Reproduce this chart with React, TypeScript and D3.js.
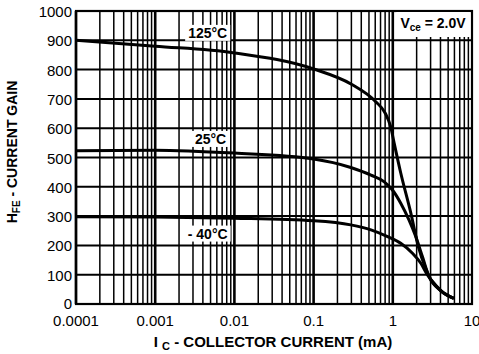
import * as React from 'react'
import { useEffect, useRef } from 'react'
import * as d3 from 'd3'

// Ic (mA) vs HFE
const curve125: [number, number][] = [
  [0.0001, 900], [0.001, 880], [0.01, 857], [0.1, 802], [0.3, 750], [0.6, 692],
  [0.8, 652], [0.94, 605], [1.04, 549], [1.26, 447], [1.69, 310], [2.1, 196],
  [2.6, 122], [3.0, 85], [4, 46], [5.9, 19],
]
const curve25: [number, number][] = [
  [0.0001, 523], [0.001, 525], [0.01, 515], [0.1, 495], [0.295, 466], [0.53, 440],
  [0.78, 417], [0.99, 389], [1.26, 344], [1.6, 287], [1.95, 230], [2.37, 161],
  [2.87, 93], [4.04, 46], [5.9, 19],
]
const curveM40: [number, number][] = [
  [0.0001, 298], [0.001, 297], [0.01, 293], [0.1, 284], [0.295, 270], [0.53, 253],
  [0.86, 230], [1.26, 207], [1.77, 173], [2.26, 139], [2.74, 99], [3.1, 80],
  [4.04, 46], [5.9, 19],
]
const xTicks = [0.0001, 0.001, 0.01, 0.1, 1, 10]
const xTickLabels = ['0.0001', '0.001', '0.01', '0.1', '1', '10']
const yTicks = [0, 100, 200, 300, 400, 500, 600, 700, 800, 900, 1000]
const curveLabels = [
  { text: '125°C', x: 0.0046, y: 925 },
  { text: '25°C', x: 0.005, y: 563 },
  { text: '- 40°C', x: 0.0046, y: 240 },
]

const W = 479
const H = 354
const M = { top: 11, right: 7, bottom: 50, left: 76 }

export default function App() {
  const svgRef = useRef<SVGSVGElement>(null)

  useEffect(() => {
    if (!svgRef.current) return
    const svg = d3.select(svgRef.current)
    svg.selectAll('*').remove()

    const x = d3.scaleLog().domain([0.0001, 10]).range([M.left, W - M.right])
    const y = d3.scaleLinear().domain([0, 1000]).range([H - M.bottom, M.top])
    const font = 'Liberation Sans, Arial, sans-serif'

    const grid = svg.append('g')
    // vertical minor / major lines
    for (let e = -4; e < 1; e++) {
      for (let k = 1; k < 10; k++) {
        const v = k * Math.pow(10, e)
        grid.append('line')
          .attr('x1', x(v)).attr('x2', x(v))
          .attr('y1', y(0)).attr('y2', y(1000))
          .attr('stroke', '#000')
          .attr('stroke-width', k === 1 ? 2.6 : 1.5)
      }
    }
    yTicks.forEach(t => {
      grid.append('line')
        .attr('x1', x(0.0001)).attr('x2', x(10))
        .attr('y1', y(t)).attr('y2', y(t))
        .attr('stroke', '#000')
        .attr('stroke-width', 2)
    })
    svg.append('rect')
      .attr('x', x(0.0001)).attr('y', y(1000))
      .attr('width', x(10) - x(0.0001)).attr('height', y(0) - y(1000))
      .attr('fill', 'none').attr('stroke', '#000').attr('stroke-width', 2.2)

    // curves
    const line = d3.line<[number, number]>()
      .x(d => x(d[0]))
      .y(d => y(d[1]))
      .curve(d3.curveMonotoneX)
    ;[curve125, curve25, curveM40].forEach(c => {
      svg.append('path')
        .attr('d', line(c))
        .attr('fill', 'none')
        .attr('stroke', '#000')
        .attr('stroke-width', 3)
    })

    // curve labels with white boxes
    curveLabels.forEach(l => {
      const g = svg.append('g')
      const t = g.append('text')
        .attr('x', x(l.x)).attr('y', y(l.y))
        .attr('text-anchor', 'middle')
        .attr('dy', '0.35em')
        .attr('font-family', font)
        .attr('font-weight', 'bold')
        .attr('font-size', 14)
        .text(l.text)
      const bb = (t.node() as SVGTextElement).getBBox()
      g.insert('rect', 'text')
        .attr('x', bb.x - 3).attr('y', bb.y)
        .attr('width', bb.width + 6).attr('height', bb.height)
        .attr('fill', '#fff')
    })

    // Vce label
    const vg = svg.append('g')
    const vt = vg.append('text')
      .attr('x', 433).attr('y', 28)
      .attr('text-anchor', 'middle')
      .attr('font-family', font)
      .attr('font-weight', 'bold')
      .attr('font-size', 14)
    vt.append('tspan').text('V')
    vt.append('tspan').attr('font-size', 10).attr('dy', 3).text('ce')
    vt.append('tspan').attr('dy', -3).text(' = 2.0V')
    const vb = (vt.node() as SVGTextElement).getBBox()
    vg.insert('rect', 'text')
      .attr('x', vb.x - 4).attr('y', y(1000) + 1)
      .attr('width', vb.width + 8).attr('height', 25)
      .attr('fill', '#fff')

    // y tick labels
    yTicks.forEach(t => {
      svg.append('text')
        .attr('x', 72).attr('y', y(t))
        .attr('dy', t === 0 ? '0.3em' : '0.4em')
        .attr('text-anchor', 'end')
        .attr('font-family', font)
        .attr('font-size', 15)
        .text(String(t))
    })
    // x tick labels
    xTicks.forEach((t, i) => {
      svg.append('text')
        .attr('x', x(t)).attr('y', 326)
        .attr('text-anchor', 'middle')
        .attr('font-family', font)
        .attr('font-size', 15)
        .text(xTickLabels[i])
    })

    // axis titles
    const xt = svg.append('text')
      .attr('x', 273).attr('y', 347)
      .attr('text-anchor', 'middle')
      .attr('font-family', font)
      .attr('font-weight', 'bold')
      .attr('font-size', 15)
    xt.append('tspan').text('I ')
    xt.append('tspan').attr('font-size', 11).attr('dy', 3).text('C')
    xt.append('tspan').attr('dy', -3).text(' - COLLECTOR CURRENT (mA)')

    const yt = svg.append('text')
      .attr('transform', 'translate(17,152) rotate(-90)')
      .attr('text-anchor', 'middle')
      .attr('font-family', font)
      .attr('font-weight', 'bold')
      .attr('font-size', 14)
    yt.append('tspan').text('H')
    yt.append('tspan').attr('font-size', 10).attr('dy', 3).text('FE')
    yt.append('tspan').attr('dy', -3).text(' - CURRENT GAIN')
  }, [])

  return (
    <svg
      ref={svgRef}
      width={W}
      height={H}
      style={{ position: 'absolute', left: 0, top: 0, background: '#fff' }}
    />
  )
}
